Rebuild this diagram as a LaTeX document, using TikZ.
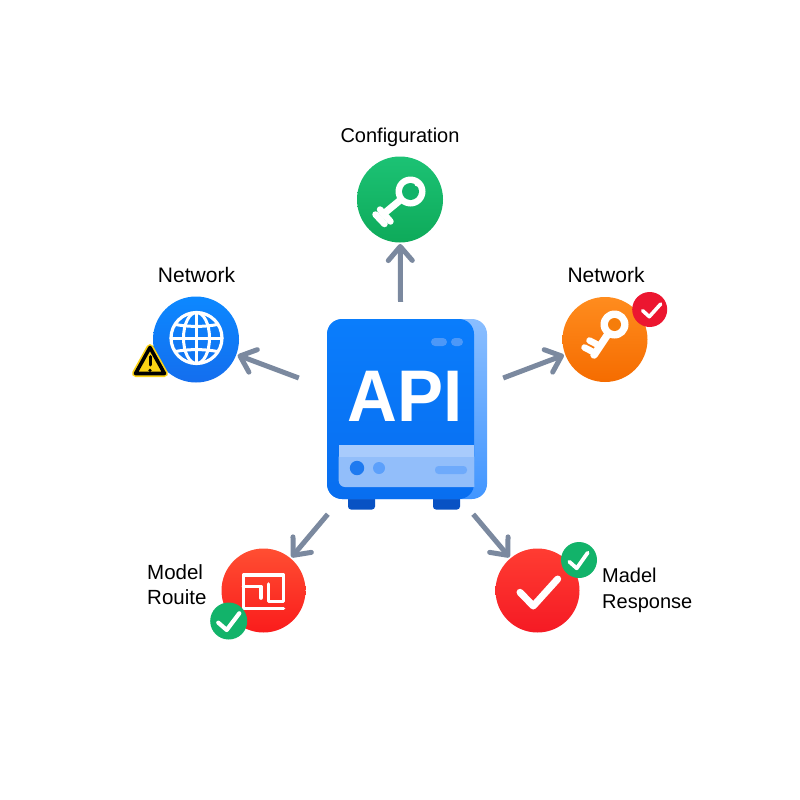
\documentclass[tikz,border=0pt]{standalone}
\usepackage{fontspec}
\usepackage{graphicx}
\setmainfont{Liberation Sans}
\usetikzlibrary{arrows.meta,calc}
\definecolor{conn}{HTML}{7B899F}
\definecolor{icongreen}{HTML}{12B36A}
\definecolor{foot}{HTML}{0852C4}
\definecolor{backtop}{HTML}{8ABEFF}
\definecolor{backbot}{HTML}{4296FF}
\definecolor{fronttop}{HTML}{0A7DFC}
\definecolor{frontbot}{HTML}{086EF0}
\definecolor{panellow}{HTML}{92BEFA}
\definecolor{panelhigh}{HTML}{A8CBFC}
\definecolor{dotdark}{HTML}{1E7AF0}
\definecolor{dotlight}{HTML}{5CA0FB}
\definecolor{pilllow}{HTML}{6EAAFB}
\definecolor{pilltop}{HTML}{4C98F8}
\definecolor{warn}{HTML}{FAD214}
\definecolor{badgered}{HTML}{EC1630}
\definecolor{keyin}{HTML}{F57D0A}
\definecolor{c1}{HTML}{1CC274}\definecolor{c2}{HTML}{0EAA5A}
\definecolor{c3}{HTML}{0C88FF}\definecolor{c4}{HTML}{146EEE}
\definecolor{c5}{HTML}{FF8C1E}\definecolor{c6}{HTML}{F56C00}
\definecolor{c7}{HTML}{FF4E32}\definecolor{c8}{HTML}{FA1C1C}
\definecolor{c9}{HTML}{FF3C32}\definecolor{c10}{HTML}{F51A24}
\tikzset{
  x=1pt,y=-1pt,
  conn/.style={draw=conn,line width=5pt,-{Straight Barb[length=14pt,width=24pt,line width=5pt,round]}},
  target/.style={circle,inner sep=0pt,outer sep=1.5pt,minimum size=85pt,shading angle=150},
  badge/.style={circle,inner sep=0pt,minimum size=36pt},
  label/.style={inner sep=0pt,font=\fontsize{20}{25}\selectfont,text=black},
  icon/.style={draw=white,line width=3pt,line cap=round,line join=round},
  tick/.style={draw=white,line cap=round,line join=round},
}
\begin{document}
\begin{tikzpicture}
\useasboundingbox (0,0) rectangle (800,800);
\fill[white] (0,0) rectangle (800,800);

% API box
\fill[rounded corners=3pt,foot] (348,495) rectangle (375,509.5);
\fill[rounded corners=3pt,foot] (433,495) rectangle (460,509.5);
\node[rectangle,rounded corners=15pt,inner sep=0pt,minimum width=160pt,minimum height=180pt,
  top color=backtop,bottom color=backbot] (apiback) at (407,409) {};
\node[rectangle,rounded corners=15pt,inner sep=0pt,minimum width=147pt,minimum height=180pt,
  top color=fronttop,bottom color=frontbot] (api) at (400.5,409) {};
% lower panel
\fill[panellow] (338.7,456.7) -- (474.3,456.7) -- (474.3,487) -- (345,487)
  arc[start angle=-90,end angle=-180,radius=6.3pt] -- cycle;
\fill[panelhigh] (338.7,445) rectangle (474.3,456.7);
\fill[dotdark] (357,468) circle[radius=7.2pt];
\fill[dotlight] (379,468) circle[radius=6pt];
\fill[rounded corners=3.5pt,pilllow] (435,466) rectangle (467,474);
\fill[rounded corners=4pt,pilltop] (431,338) rectangle (447,346);
\fill[rounded corners=4pt,pilltop] (451,338) rectangle (463,346);
\node[inner sep=0pt,text=white,font=\fontsize{69}{69}\selectfont\bfseries] (apitext) at (405,396.7) {\scalebox{1}[1.06]{API}};

% targets
\node[target,minimum size=86pt,top color=c1,bottom color=c2] (cfg) at (400,199.5) {};
\node[target,minimum size=86pt,top color=c3,bottom color=c4] (net) at (196,339.5) {};
\node[target,top color=c5,bottom color=c6] (key) at (605,339.5) {};
\node[target,minimum size=84pt,top color=c7,bottom color=c8] (route) at (263.5,590.5) {};
\node[target,minimum size=84pt,top color=c9,bottom color=c10] (resp) at (537.5,590.5) {};

% connectors
\draw[conn] ($(api.north)+(0,-17)$) -- (cfg);
\draw[conn] ($(api.west)+(-28,-31)$) -- (net);
\draw[conn] ($(api.east)+(29,-31)$) -- (key);
\draw[conn] ($(api.south west)+(1,15)$) -- (route);
\draw[conn] ($(api.south east)+(-1,15)$) -- (resp);

% configuration key
\draw[icon,line width=7pt,line cap=butt] (401,199.5) -- (381,216);
\draw[icon,line width=6.5pt] (380,209.5) -- (390.5,221.5);
\draw[icon,line width=6.5pt] (375.5,214.5) -- (384.5,224);
\fill[white] (410.5,191.5) circle[radius=15pt];
\fill[icongreen] (410.5,191.5) circle[radius=8.5pt];
\fill[white] (417.3,183.5) circle[radius=3pt];

% globe
\begin{scope}[shift={(196.5,338)}]
\draw[icon,line width=3.2pt] (0,0) circle[radius=25.5pt];
\draw[icon,line width=3pt] (0,0) ellipse[x radius=13pt,y radius=25.5pt];
\draw[icon,line width=3pt] (0,-25.5) -- (0,25.5);
\draw[icon,line width=3pt] (-25.5,0) -- (25.5,0);
\draw[icon,line width=3pt] (-21,-13.5) .. controls (-8,-11) and (8,-11) .. (21,-13.5);
\draw[icon,line width=3pt] (-21,13.5) .. controls (-8,11) and (8,11) .. (21,13.5);
\end{scope}

% orange key
\draw[icon,line width=7.5pt] (608,334) -- (594,355);
\draw[icon,line width=6.5pt] (595,353) -- (584.5,347.5);
\draw[icon,line width=6.5pt] (600,346) -- (589.5,340.5);
\fill[white] (614.5,324.5) circle[radius=14pt];
\fill[keyin] (614.5,324.5) circle[radius=6.5pt];

% route icon
\draw[icon,line width=3.6pt,line join=round]
  (283.5,608.3) -- (243.5,608.3) -- (243.5,575) -- (283.5,575) -- (283.5,601.5) -- (268.5,601.5) -- (268.5,584);
\draw[icon,line width=3.6pt,line join=round]
  (243.5,586.5) -- (261,586.5) -- (261,598);

% response tick
\draw[tick,line width=7pt] (520,592.3) -- (533.3,606) -- (557.7,579);

% badges
\node[badge,minimum size=35pt,fill=badgered] (bkey) at (649.7,309.5) {};
\draw[tick,line width=3.6pt] (642.7,310.7) -- (649.3,316.7) -- (660.7,304);
\node[badge,minimum size=37pt,fill=icongreen] (broute) at (228.7,621) {};
\draw[tick,line width=4.2pt] (218.3,622.7) -- (226.7,630) -- (239.3,613.3);
\node[badge,fill=icongreen] (bresp) at (579,560) {};
\draw[tick,line width=3.8pt] (569.3,561.7) -- (576.7,568.3) -- (587.7,552.7);

% warning
\path[draw=warn,line width=7pt,line join=round]
  (150,347.5) -- (135.5,373.5) -- (164.5,373.5) -- cycle;
\path[draw=black,fill=warn,line width=3.6pt,line join=round]
  (150,347.5) -- (135.5,373.5) -- (164.5,373.5) -- cycle;
\draw[black,line width=3pt,line cap=round] (150,356.5) -- (150,365);
\fill[black] (150,370.3) circle[radius=1.8pt];

% labels
\node[label] (lcfg) at (400,137) {Configuration};
\node[label,font=\fontsize{21}{25}\selectfont] (lnet) at (196.5,274.5) {Network};
\node[label,font=\fontsize{21}{25}\selectfont] (lkey) at (606,274.5) {Network};
\node[label,anchor=west,align=left,font=\fontsize{20.5}{25}\selectfont] (lroute) at (147,584.5) {Model\\Rouite};
\node[label,anchor=west,align=left,font=\fontsize{20}{26}\selectfont] (lresp) at (602,590) {Madel\\Response};
\end{tikzpicture}
\end{document}
